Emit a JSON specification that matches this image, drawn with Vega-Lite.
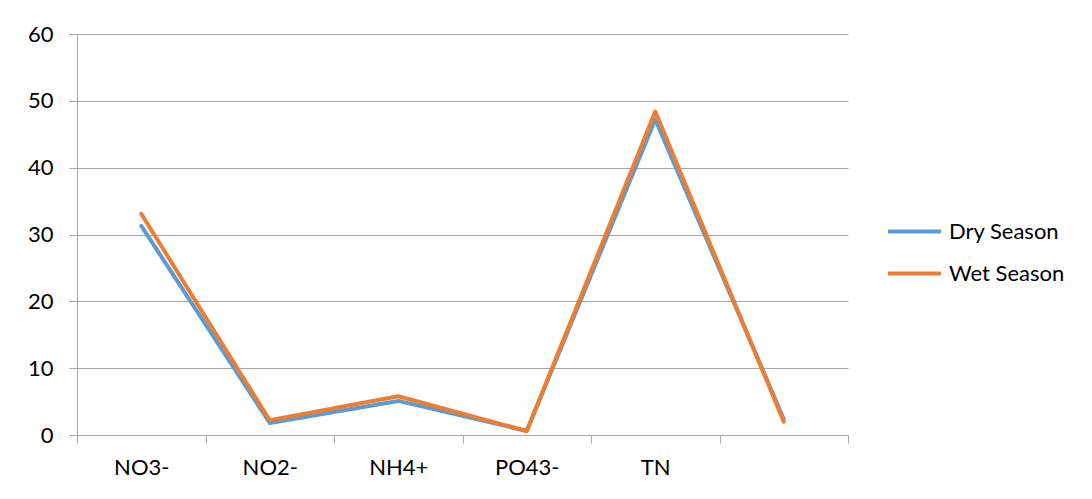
{
  "$schema": "https://vega.github.io/schema/vega-lite/v6.json",
  "width": 771,
  "height": 401,
  "autosize": {"type": "none"},
  "padding": {"left": 77, "top": 34, "right": 244, "bottom": 64},
  "background": "white",
  "data": {
    "values": [
      {"parameter": "NO3-", "season": "Dry Season", "value": 31.3},
      {"parameter": "NO2-", "season": "Dry Season", "value": 1.8},
      {"parameter": "NH4+", "season": "Dry Season", "value": 5.1},
      {"parameter": "PO43-", "season": "Dry Season", "value": 0.6},
      {"parameter": "TN", "season": "Dry Season", "value": 47.2},
      {"parameter": " ", "season": "Dry Season", "value": 2.4},
      {"parameter": "NO3-", "season": "Wet Season", "value": 33.1},
      {"parameter": "NO2-", "season": "Wet Season", "value": 2.2},
      {"parameter": "NH4+", "season": "Wet Season", "value": 5.8},
      {"parameter": "PO43-", "season": "Wet Season", "value": 0.6},
      {"parameter": "TN", "season": "Wet Season", "value": 48.4},
      {"parameter": " ", "season": "Wet Season", "value": 2.0}
    ]
  },
  "mark": {"type": "line", "strokeWidth": 4, "strokeJoin": "round", "strokeCap": "round"},
  "encoding": {
    "x": {
      "field": "parameter",
      "type": "nominal",
      "bandPosition": 0.5,
      "scale": {"type": "band", "domain": ["NO3-", "NO2-", "NH4+", "PO43-", "TN", " "], "paddingInner": 0, "paddingOuter": 0},
      "axis": {
        "title": null,
        "labelAngle": 0,
        "tickBand": "extent",
        "grid": false,
        "domainColor": "#a6a6a6",
        "tickColor": "#a6a6a6",
        "tickSize": 8,
        "labelPadding": 14,
        "labelFont": "Lato",
        "labelFontSize": 22,
        "labelColor": "#000000"
      }
    },
    "y": {
      "field": "value",
      "type": "quantitative",
      "scale": {"domain": [0, 60], "nice": false},
      "axis": {
        "title": null,
        "values": [0, 10, 20, 30, 40, 50, 60],
        "grid": true,
        "gridColor": "#a6a6a6",
        "domainColor": "#a6a6a6",
        "tickColor": "#a6a6a6",
        "tickSize": 8,
        "labelPadding": 16,
        "labelFont": "Lato",
        "labelFontSize": 22,
        "labelColor": "#000000"
      }
    },
    "color": {
      "field": "season",
      "type": "nominal",
      "scale": {"domain": ["Dry Season", "Wet Season"], "range": ["#5B9BD5", "#ED7D31"]},
      "legend": {
        "title": null,
        "orient": "none",
        "legendX": 809,
        "legendY": 169,
        "symbolType": "stroke",
        "symbolSize": 2809,
        "symbolStrokeWidth": 4,
        "labelOffset": 6,
        "rowPadding": 2,
        "labelFont": "Lato",
        "labelFontSize": 22,
        "labelColor": "#000000",
        "padding": 0
      }
    }
  },
  "config": {
    "view": {"stroke": null}
  }
}
